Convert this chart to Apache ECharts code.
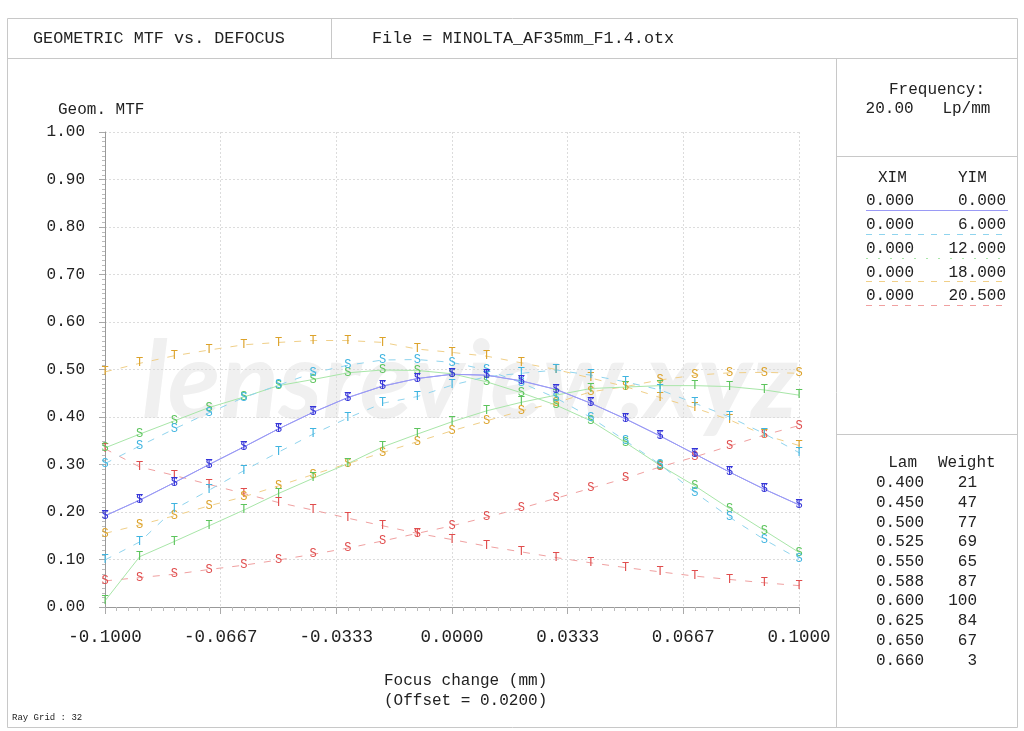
<!DOCTYPE html>
<html>
<head>
<meta charset="utf-8">
<script src="https://cdn.jsdelivr.net/npm/echarts@6/dist/echarts.min.js"></script>
<style>
html,body{margin:0;padding:0;background:#fff;}
#c{width:1024px;height:731px;}
</style>
</head>
<body>
<div id="c"></div>
<script>
// ---- data ----
var focusX = [-0.10,-0.09,-0.08,-0.07,-0.06,-0.05,-0.04,-0.03,-0.02,-0.01,0.00,0.01,0.02,0.03,0.04,0.05,0.06,0.07,0.08,0.09,0.10];
var xTickLabels = ['-0.1000','-0.0667','-0.0333','0.0000','0.0333','0.0667','0.1000'];

var y0T  = [0.192,0.225,0.262,0.300,0.337,0.375,0.410,0.441,0.465,0.481,0.490,0.488,0.476,0.458,0.429,0.396,0.360,0.322,0.284,0.248,0.215];
var y0S  = [0.192,0.225,0.262,0.300,0.337,0.375,0.410,0.441,0.465,0.481,0.490,0.488,0.476,0.458,0.429,0.396,0.360,0.322,0.284,0.248,0.215];
var y6T  = [0.099,0.137,0.206,0.246,0.287,0.326,0.364,0.398,0.429,0.443,0.467,0.485,0.492,0.499,0.488,0.474,0.457,0.429,0.400,0.365,0.325];
var y6S  = [0.302,0.339,0.375,0.409,0.441,0.467,0.493,0.509,0.520,0.521,0.515,0.499,0.472,0.440,0.399,0.350,0.300,0.241,0.189,0.142,0.101];
var y12T = [0.013,0.106,0.138,0.171,0.204,0.239,0.271,0.302,0.337,0.364,0.390,0.413,0.431,0.446,0.460,0.463,0.466,0.466,0.464,0.457,0.446];
var y12S = [0.335,0.364,0.392,0.420,0.442,0.466,0.479,0.493,0.499,0.498,0.491,0.474,0.451,0.425,0.392,0.346,0.298,0.255,0.207,0.161,0.115];
var y18T = [0.495,0.513,0.529,0.541,0.552,0.557,0.561,0.561,0.557,0.543,0.536,0.528,0.514,0.500,0.482,0.464,0.441,0.419,0.394,0.362,0.340];
var y18S = [0.155,0.173,0.192,0.213,0.232,0.255,0.279,0.302,0.325,0.348,0.371,0.392,0.413,0.430,0.453,0.464,0.478,0.488,0.493,0.494,0.492];
var y205T= [0.333,0.295,0.277,0.258,0.239,0.220,0.204,0.187,0.171,0.155,0.142,0.128,0.116,0.104,0.093,0.083,0.074,0.065,0.058,0.051,0.045];
var y205S= [0.055,0.062,0.069,0.079,0.088,0.099,0.111,0.124,0.139,0.155,0.171,0.189,0.208,0.229,0.250,0.271,0.295,0.316,0.339,0.362,0.382];

var fieldXIM = ['0.000','0.000','0.000','0.000','0.000'];
var fieldYIM = ['0.000','6.000','12.000','18.000','20.500'];
var lamValues = ['0.400','0.450','0.500','0.525','0.550','0.588','0.600','0.625','0.650','0.660'];
var lamWeights = ['21','47','77','69','65','87','100','84','67','3'];

// ---- styles ----
var FONT = '"Liberation Mono", "DejaVu Sans Mono", monospace';
var fieldColors = ['#3535d8','#3fb4e0','#5cc45c','#dca22a','#e04c4c'];
var lineColors  = ['#9a9af5','#8fd4ee','#a8e6a8','#f0cf88','#f0a0a0'];
var lineTypes   = ['solid',[7,9],'solid',[7,9],[7,9]];
var fieldData = [[y0T,y0S],[y6T,y6S],[y12T,y12S],[y18T,y18S],[y205T,y205S]];

function pairs(ys){ return focusX.map(function(x,i){ return [x, ys[i]]; }); }

var series = [];
var order = [4,3,2,1,0];
order.forEach(function(f){
  ['T','S'].forEach(function(letter, k){
    series.push({
      type:'line',
      name: fieldYIM[f] + ' ' + letter,
      data: pairs(fieldData[f][k]),
      smooth: false,
      symbol: 'circle',
      symbolSize: 2,
      showSymbol: true,
      itemStyle: {color: 'rgba(0,0,0,0)', borderWidth: 0},
      lineStyle: {color: lineColors[f], width: 1, type: lineTypes[f]},
      label: {show: true, position: 'inside', formatter: letter,
              color: fieldColors[f], fontFamily: FONT, fontSize: 12},
      emphasis: {disabled: true},
      z: 3
    });
  });
});

// ---- frame & texts ----
var frameColor = '#c8c8c8';
function hline(x1,x2,y,c,t){ return {type:'line', shape:{x1:x1,y1:y,x2:x2,y2:y}, style:{stroke:c||frameColor, lineWidth:1, lineDash:t||null}, silent:true}; }
function vline(x,y1,y2,c){ return {type:'line', shape:{x1:x,y1:y1,x2:x,y2:y2}, style:{stroke:c||frameColor, lineWidth:1}, silent:true}; }
function txt(x,y,s,opt){
  opt = opt||{};
  return {type:'text', x:x, y:y, silent:true, z: 10,
    style:{text:s, fill:opt.color||'#222', font:(opt.size||16)+'px '+FONT,
           textAlign:opt.align||'left', textVerticalAlign:'middle'}};
}

var graphics = [
  {type:'text', x:470, y:383, z:0, silent:true,
   style:{text:'lensreview.xyz', fill:'#f0f0f0', font:'italic bold 108px Lato, "Open Sans", sans-serif',
          textAlign:'center', textVerticalAlign:'middle'}},
  {type:'rect', shape:{x:7.5,y:18.5,width:1010,height:709}, style:{fill:null, stroke:frameColor, lineWidth:1}, silent:true},
  hline(7,1017,58.5),
  vline(331.5,18,58),
  vline(836.5,58,727),
  hline(836,1017,156.5),
  hline(836,1017,434.5),
  txt(33,39,'GEOMETRIC MTF vs. DEFOCUS',{size:16.8}),
  txt(372,39,'File = MINOLTA_AF35mm_F1.4.otx',{size:16.8}),
  txt(58,110,'Geom. MTF'),
  txt(384,681,'Focus change (mm)'),
  txt(384,701,'(Offset = 0.0200)'),
  txt(12,718,'Ray Grid : 32',{size:9}),
  txt(937,90,'Frequency:',{align:'center'}),
  txt(928,109,'20.00   Lp/mm',{align:'center'}),
  txt(878,178,'XIM'),
  txt(958,178,'YIM'),
  txt(917,463,'Lam',{align:'right'}),
  txt(938,463,'Weight')
];
var rowY0 = 201, rowStep = 23.8;
fieldXIM.forEach(function(v,i){
  var y = rowY0 + i*rowStep;
  graphics.push(txt(866,y,v));
  graphics.push(txt(1006,y,fieldYIM[i],{align:'right'}));
  var ly = Math.round(y + 9) + 0.5;
  var dash = (lineTypes[i]==='solid') ? null : [6,7];
  if(i===2) dash=[2,10];
  graphics.push(hline(866,1008,ly,lineColors[i],dash));
});
lamValues.forEach(function(v,i){
  var y = 483 + i*19.7;
  graphics.push(txt(876,y,v));
  graphics.push(txt(977,y,lamWeights[i],{align:'right'}));
});

var chart = echarts.init(document.getElementById('c'), null, {renderer:'canvas'});
chart.setOption({
  animation: false,
  backgroundColor: '#fff',
  grid: {left:105, right:225, top:132, bottom:124, containLabel:false},
  xAxis: {
    type:'value', min:-0.1, max:0.1, interval:0.1/3,
    axisLine:{onZero:false, lineStyle:{color:'#999'}},
    axisTick:{show:true, length:7, lineStyle:{color:'#aaa'}},
    minorTick:{show:true, splitNumber:10, length:4, lineStyle:{color:'#bbb'}},
    splitLine:{show:true, lineStyle:{color:'#dcdcdc', type:[2,2]}},
    axisLabel:{margin:21, color:'#222', fontFamily:FONT, fontSize:17.5,
      formatter:function(v){ var idx = Math.round((v+0.1)/(0.1/3)); return xTickLabels[idx]; }}
  },
  yAxis: {
    type:'value', min:0, max:1, interval:0.1,
    axisLine:{show:true, onZero:false, lineStyle:{color:'#999'}},
    axisTick:{show:true, length:6, lineStyle:{color:'#aaa'}},
    minorTick:{show:true, splitNumber:10, length:3, lineStyle:{color:'#bbb'}},
    splitLine:{show:true, lineStyle:{color:'#dcdcdc', type:[2,2]}},
    axisLabel:{margin:20, color:'#222', fontFamily:FONT, fontSize:16,
      formatter:function(v){ return v.toFixed(2); }}
  },
  graphic: graphics,
  series: series
});
</script>
</body>
</html>
